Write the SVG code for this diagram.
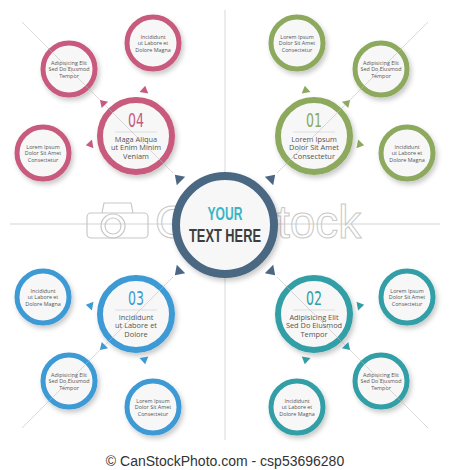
<svg xmlns="http://www.w3.org/2000/svg" width="450" height="470" viewBox="0 0 450 470">
<defs>
<filter id="sh" x="-30%" y="-30%" width="170%" height="170%"><feDropShadow dx="2" dy="3" stdDeviation="2.5" flood-color="#000" flood-opacity="0.22"/></filter>
<style>
.circ{fill:#f7f7f7;filter:url(#sh)}
.sm{stroke-width:5}
.mn{stroke-width:6}
.pk{stroke:#c85a7e}.pkf{fill:#c85a7e}
.gr{stroke:#8ca95d}.grf{fill:#8ca95d}
.bl{stroke:#3c9ad4}.blf{fill:#3c9ad4}
.tl{stroke:#319ea6}.tlf{fill:#319ea6}
.sl{stroke:#4b6783}.slf{fill:#4b6783}
.num{font-family:'Liberation Sans Narrow','DejaVu Sans Condensed','Liberation Sans',sans-serif;font-size:19px;text-anchor:middle}
.ctr{font-family:'Liberation Sans',Arial,sans-serif;font-size:18.5px;font-weight:bold;text-anchor:middle}
.mt{font-family:'Open Sans','Liberation Sans',sans-serif;font-size:7.4px;fill:#555;text-anchor:middle}
.st{font-family:'Open Sans','Liberation Sans',sans-serif;font-size:5.4px;fill:#555;text-anchor:middle}
.rule{stroke:#d2d2d2;stroke-width:0.7}
.diag{stroke:#bdbdbd;stroke-width:0.8;opacity:0.7}
.dv{stroke:#e2e2e2;stroke-width:1.3}
.wm{font-family:'Liberation Sans',sans-serif;font-size:46px;fill:none;stroke:#c8c8c8;stroke-width:1}
.wmi{fill:none;stroke:#c8c8c8;stroke-width:1.2}
</style>
</defs>
<rect width="450" height="470" fill="#fff"/>

<g id="dividers">
<line class="dv" x1="10" y1="224" x2="172" y2="224"/>
<line class="dv" x1="278" y1="224" x2="440" y2="224"/>
<line class="dv" x1="225" y1="10" x2="225" y2="172"/>
<line class="dv" x1="225" y1="278" x2="225" y2="440"/>
</g>

<g id="watermark">
<rect class="wmi" x="87" y="213" width="61" height="25" rx="4"/>
<path class="wmi" d="M102 213 L104 203 L131 203 L133 213"/>
<circle class="wmi" cx="113" cy="226" r="12"/>
<circle class="wmi" cx="113" cy="226" r="8"/>
<text class="wm" x="155" y="238">C</text>
<text class="wm" x="277" y="238">tock</text>
</g>

<g id="node-04-a"><circle class="circ sm pk" cx="153" cy="43" r="26"/>
<text class="st" x="153" y="38.5">Incididunt</text><text class="st" x="153" y="45">ut Labore et</text><text class="st" x="153" y="51.5">Dolore Magna</text></g>
<g id="node-04-b"><circle class="circ sm pk" cx="69" cy="69" r="26"/>
<text class="st" x="69" y="64.5">Adipisicing Elit</text><text class="st" x="69" y="71">Sed Do Eiusmod</text><text class="st" x="69" y="77.5">Tempor</text></g>
<g id="node-04-c"><circle class="circ sm pk" cx="43" cy="153" r="26"/>
<text class="st" x="43" y="148.5">Lorem Ipsum</text><text class="st" x="43" y="155">Dolor Sit Amet</text><text class="st" x="43" y="161.5">Consectetur</text></g>
<g id="node-04"><circle class="circ mn pk" cx="136" cy="136" r="36"/>
<text class="num pkf" x="136" y="127" textLength="16" lengthAdjust="spacingAndGlyphs">04</text>
<line class="rule" x1="115" y1="132" x2="157" y2="132"/>
<text class="mt" x="136" y="141.5">Maga Aliqua</text><text class="mt" x="136" y="150">ut Enim Minim</text><text class="mt" x="136" y="158.5">Veniam</text></g>

<g id="node-01-a"><circle class="circ sm gr" cx="297" cy="43" r="26"/>
<text class="st" x="297" y="38.5">Lorem Ipsum</text><text class="st" x="297" y="45">Dolor Sit Amet</text><text class="st" x="297" y="51.5">Consectetur</text></g>
<g id="node-01-b"><circle class="circ sm gr" cx="381" cy="69" r="26"/>
<text class="st" x="381" y="64.5">Adipisicing Elit</text><text class="st" x="381" y="71">Sed Do Eiusmod</text><text class="st" x="381" y="77.5">Tempor</text></g>
<g id="node-01-c"><circle class="circ sm gr" cx="407" cy="153" r="26"/>
<text class="st" x="407" y="148.5">Incididunt</text><text class="st" x="407" y="155">ut Labore et</text><text class="st" x="407" y="161.5">Dolore Magna</text></g>
<g id="node-01"><circle class="circ mn gr" cx="314" cy="136" r="36"/>
<text class="num grf" x="314" y="127" textLength="16" lengthAdjust="spacingAndGlyphs">01</text>
<line class="rule" x1="293" y1="132" x2="335" y2="132"/>
<text class="mt" x="314" y="141.5">Lorem Ipsum</text><text class="mt" x="314" y="150">Dolor Sit Amet</text><text class="mt" x="314" y="158.5">Consectetur</text></g>

<g id="node-03-a"><circle class="circ sm bl" cx="43" cy="297" r="26"/>
<text class="st" x="43" y="292.5">Incididunt</text><text class="st" x="43" y="299">ut Labore et</text><text class="st" x="43" y="305.5">Dolore Magna</text></g>
<g id="node-03-b"><circle class="circ sm bl" cx="69" cy="381" r="26"/>
<text class="st" x="69" y="376.5">Adipisicing Elit</text><text class="st" x="69" y="383">Sed Do Eiusmod</text><text class="st" x="69" y="389.5">Tempor</text></g>
<g id="node-03-c"><circle class="circ sm bl" cx="153" cy="407" r="26"/>
<text class="st" x="153" y="402.5">Lorem Ipsum</text><text class="st" x="153" y="409">Dolor Sit Amet</text><text class="st" x="153" y="415.5">Consectetur</text></g>
<g id="node-03"><circle class="circ mn bl" cx="136" cy="314" r="36"/>
<text class="num blf" x="136" y="305" textLength="16" lengthAdjust="spacingAndGlyphs">03</text>
<line class="rule" x1="115" y1="310" x2="157" y2="310"/>
<text class="mt" x="136" y="319.5">Incididunt</text><text class="mt" x="136" y="328">ut Labore et</text><text class="mt" x="136" y="336.5">Dolore</text></g>

<g id="node-02-a"><circle class="circ sm tl" cx="407" cy="297" r="26"/>
<text class="st" x="407" y="292.5">Lorem Ipsum</text><text class="st" x="407" y="299">Dolor Sit Amet</text><text class="st" x="407" y="305.5">Consectetur</text></g>
<g id="node-02-b"><circle class="circ sm tl" cx="381" cy="381" r="26"/>
<text class="st" x="381" y="376.5">Adipisicing Elit</text><text class="st" x="381" y="383">Sed Do Eiusmod</text><text class="st" x="381" y="389.5">Tempor</text></g>
<g id="node-02-c"><circle class="circ sm tl" cx="297" cy="407" r="26"/>
<text class="st" x="297" y="402.5">Incididunt</text><text class="st" x="297" y="409">ut Labore et</text><text class="st" x="297" y="415.5">Dolore Magna</text></g>
<g id="node-02"><circle class="circ mn tl" cx="314" cy="314" r="36"/>
<text class="num tlf" x="314" y="305" textLength="16" lengthAdjust="spacingAndGlyphs">02</text>
<line class="rule" x1="293" y1="310" x2="335" y2="310"/>
<text class="mt" x="314" y="319.5">Adipisicing Elit</text><text class="mt" x="314" y="328">Sed Do Eiusmod</text><text class="mt" x="314" y="336.5">Tempor</text></g>

<g id="center"><circle class="circ sl" cx="225" cy="225" r="49" stroke-width="8"/>
<text class="ctr" transform="translate(225 220) scale(0.655 1)" fill="#3ab5c6">YOUR</text>
<text class="ctr" transform="translate(225 242) scale(0.694 1)" fill="#3d3d3d">TEXT HERE</text>
</g>

<g id="connectors">
<line class="diag" x1="22" y1="22" x2="173" y2="173"/>
<line class="diag" x1="428" y1="22" x2="277" y2="173"/>
<line class="diag" x1="22" y1="428" x2="173" y2="277"/>
<line class="diag" x1="428" y1="428" x2="277" y2="277"/>
<polygon class="pkf" points="145.2,85.8 148.3,93.5 139.5,91.9"/>
<polygon class="pkf" points="99.9,99.9 108.1,101.7 101.7,108.1"/>
<polygon class="pkf" points="85.8,145.2 93.5,148.3 91.9,139.5"/>
<polygon class="grf" points="304.8,85.8 301.7,93.5 310.5,91.9"/>
<polygon class="grf" points="350.1,99.9 341.9,101.7 348.3,108.1"/>
<polygon class="grf" points="364.2,145.2 356.5,148.3 358.1,139.5"/>
<polygon class="blf" points="145.2,364.2 148.3,356.5 139.5,358.1"/>
<polygon class="blf" points="99.9,350.1 108.1,348.3 101.7,341.9"/>
<polygon class="blf" points="85.8,304.8 93.5,301.7 91.9,310.5"/>
<polygon class="tlf" points="304.8,364.2 301.7,356.5 310.5,358.1"/>
<polygon class="tlf" points="350.1,350.1 341.9,348.3 348.3,341.9"/>
<polygon class="tlf" points="364.2,304.8 356.5,301.7 358.1,310.5"/>
<polygon class="slf" points="174.8,174.8 185.2,176.8 176.8,185.2"/>
<polygon class="slf" points="275.2,174.8 264.8,176.8 273.2,185.2"/>
<polygon class="slf" points="174.8,275.2 185.2,273.2 176.8,264.8"/>
<polygon class="slf" points="275.2,275.2 264.8,273.2 273.2,264.8"/>
</g>

<text x="225" y="466" font-family="'Liberation Sans',Arial,sans-serif" font-size="14" fill="#333" text-anchor="middle">© CanStockPhoto.com - csp53696280</text>
</svg>
